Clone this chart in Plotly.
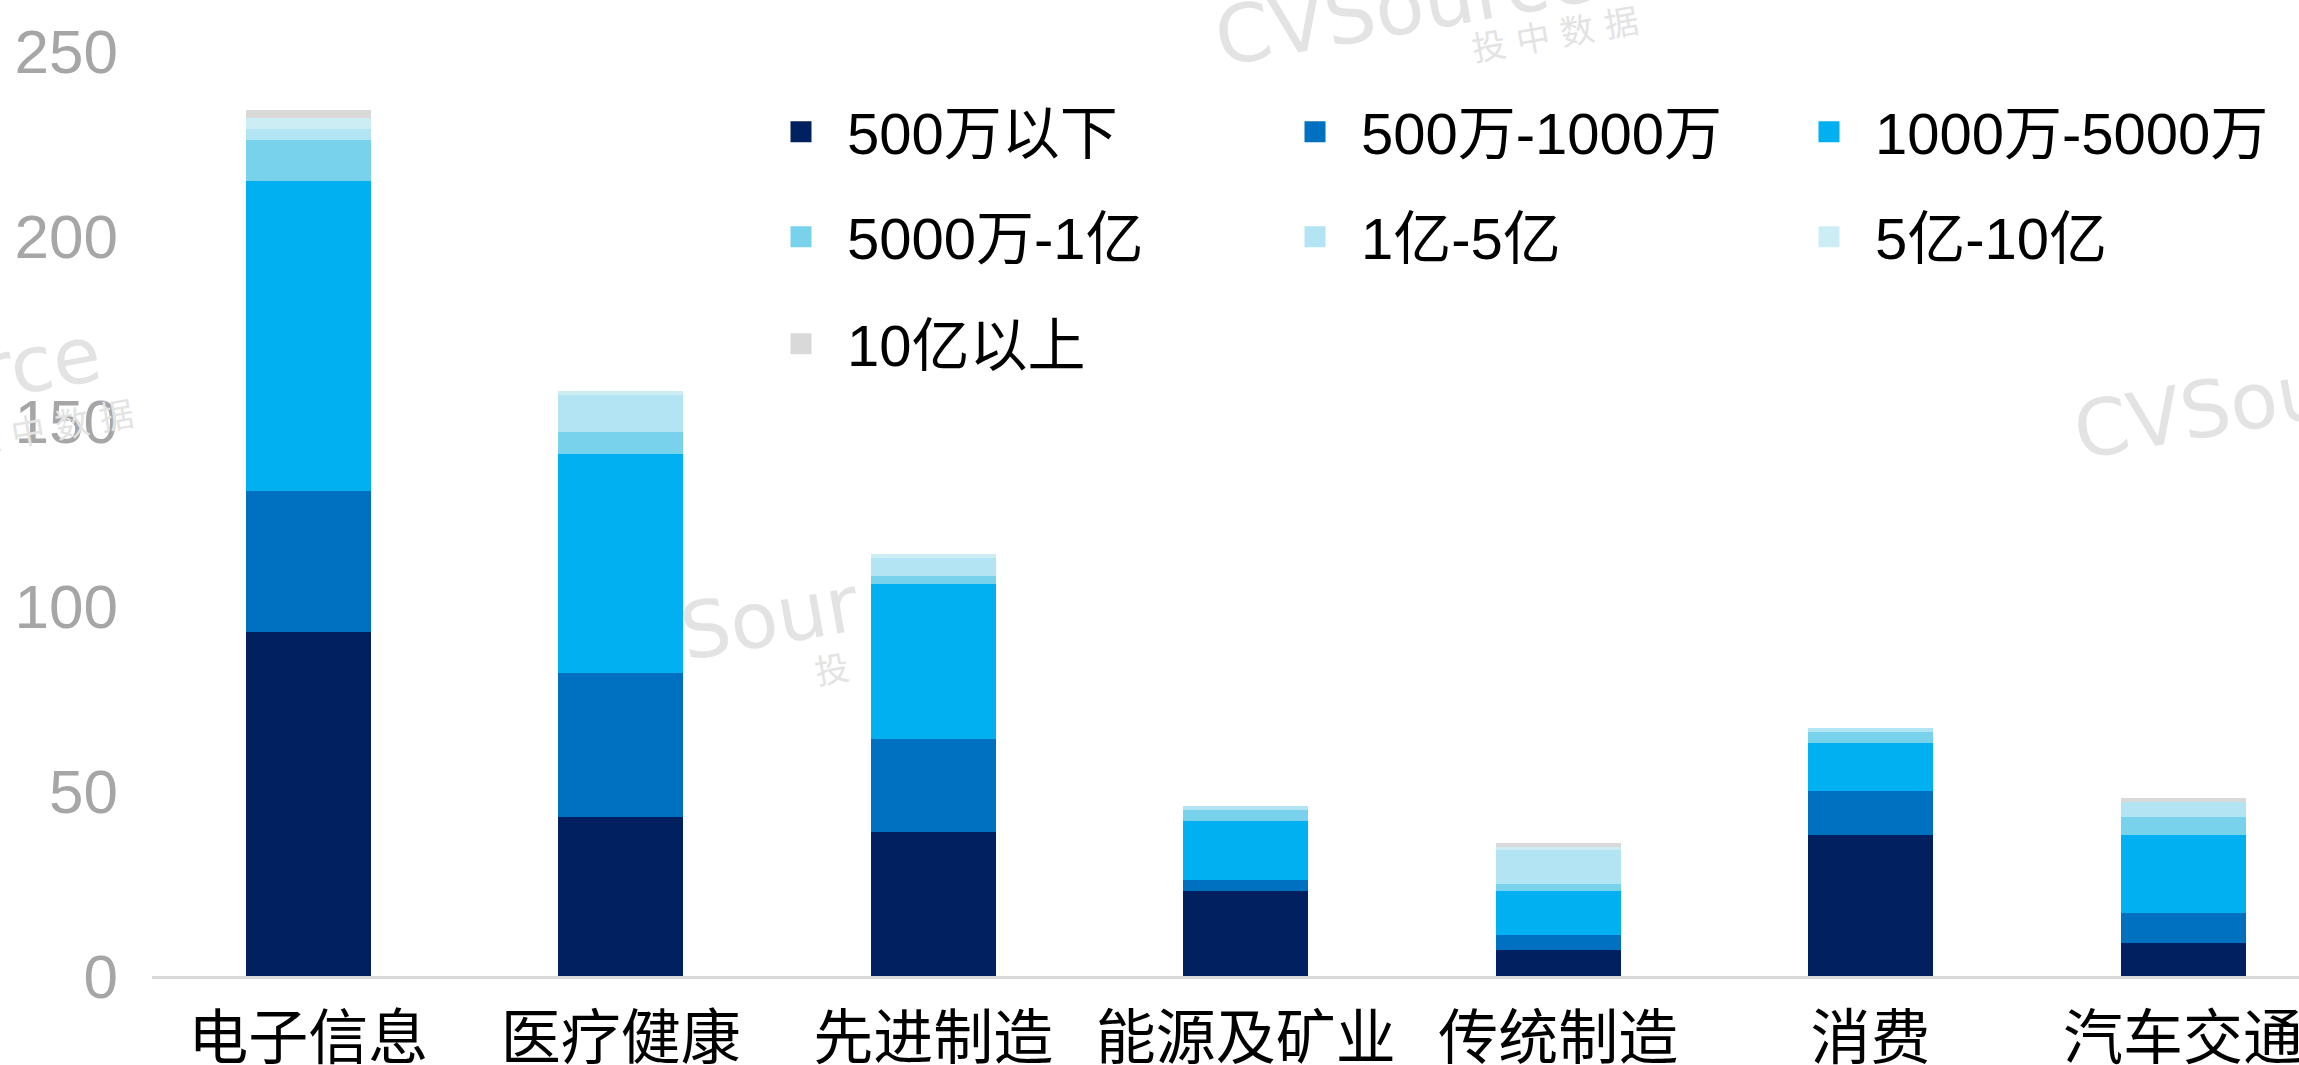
import plotly.graph_objects as go

# categories and stacked series (number of deals by round size)
categories = ["电子信息", "医疗健康", "先进制造", "能源及矿业", "传统制造", "消费", "汽车交通"]
below_500w = [93, 43, 39, 23, 7, 38, 9]
w500_1000 = [38, 39, 25, 3, 4, 12, 8]
w1000_5000 = [84, 59, 42, 16, 12, 13, 21]
w5000_1y = [11, 6, 2, 3, 2, 3, 5]
y1_5 = [3, 10, 5, 1, 9, 1, 4]
y5_10 = [3, 1, 1, 0, 1, 0, 0]
above_10y = [2, 0, 0, 0, 1, 0, 1]

series_names = ["500万以下", "500万-1000万", "1000万-5000万", "5000万-1亿", "1亿-5亿", "5亿-10亿", "10亿以上"]
series_values = [below_500w, w500_1000, w1000_5000, w5000_1y, y1_5, y5_10, above_10y]
colors = ["#002060", "#0070C0", "#00B0F0", "#79D2EC", "#B3E4F3", "#CDEDF5", "#D9D9D9"]
y_ticks = [0, 50, 100, 150, 200, 250]

W, H = 2299, 1065
L, T, B = 152, 51, 89
PW, PH = W - L, H - T - B


def px_x(x):
    return (x - L) / PW


def px_y(y):
    return (H - B - y) / PH


FONT = "Liberation Sans, Arial, Noto Sans CJK SC, sans-serif"

fig = go.Figure()
legends = ["legend", "legend", "legend", "legend2", "legend2", "legend2", "legend3"]
for name, vals, col in zip(series_names, series_values, colors):
    fig.add_trace(go.Bar(x=categories, y=vals, name=name, marker_color=col,
                         marker_line_width=0, showlegend=False, legendgroup=name))

# legend keys (bigger squares than the default bar swatch)
for name, col, lg in zip(series_names, colors, legends):
    fig.add_trace(go.Scatter(x=[None], y=[None], mode="markers", name=name, legend=lg,
                             legendgroup=name,
                             marker=dict(symbol="square", size=16, color=col,
                                         line=dict(width=5, color=col))))

# faint watermark
wm_color = "#E3E3E3"
wm = [
    ("CVSource", 1405, 5, 80),
    ("投 中 数 据", 1555, 35, 34),
    ("CVSource", 2260, 400, 78),
    ("Sour", 770, 618, 78),
    ("投", 832, 670, 34),
    ("CVSource", -85, 385, 78),
    ("投 中 数 据", 50, 428, 34),
]
for txt, x, y, s in wm:
    fig.add_annotation(text=txt, x=px_x(x), y=px_y(y), xref="paper", yref="paper",
                       showarrow=False, textangle=-10, xanchor="center", yanchor="middle",
                       font=dict(family="DejaVu Sans, Noto Sans CJK SC", size=s, color=wm_color))

leg_common = dict(orientation="h", xanchor="left", yanchor="middle", x=px_x(755),
                  itemwidth=82, entrywidth=417, entrywidthmode="pixels",
                  font=dict(family=FONT, size=58, color="#000000"),
                  bgcolor="rgba(0,0,0,0)", traceorder="normal")

fig.update_layout(
    width=W, height=H,
    barmode="stack", bargap=0.6,
    plot_bgcolor="white", paper_bgcolor="white",
    margin=dict(l=L, r=0, t=T, b=B, autoexpand=False),
    font=dict(family=FONT),
    legend=dict(y=px_y(132), **leg_common),
    legend2=dict(y=px_y(237), **leg_common),
    legend3=dict(y=px_y(344), **leg_common),
    xaxis=dict(range=[-0.5, 6.371], showgrid=False, showline=True, linecolor="#D9D9D9",
               linewidth=3, ticks="", ticklabelstandoff=8,
               tickfont=dict(family="Noto Sans CJK SC, sans-serif", size=60, color="#000000")),
    yaxis=dict(range=[0, 250], tickvals=y_ticks, showgrid=False, showline=False,
               zeroline=False, ticks="", ticklabelstandoff=33,
               tickfont=dict(family=FONT, size=62, color="#A6A6A6")),
)

fig.write_html("out.html", config={"displayModeBar": False},
               post_script="document.body.style.margin='0px';")
